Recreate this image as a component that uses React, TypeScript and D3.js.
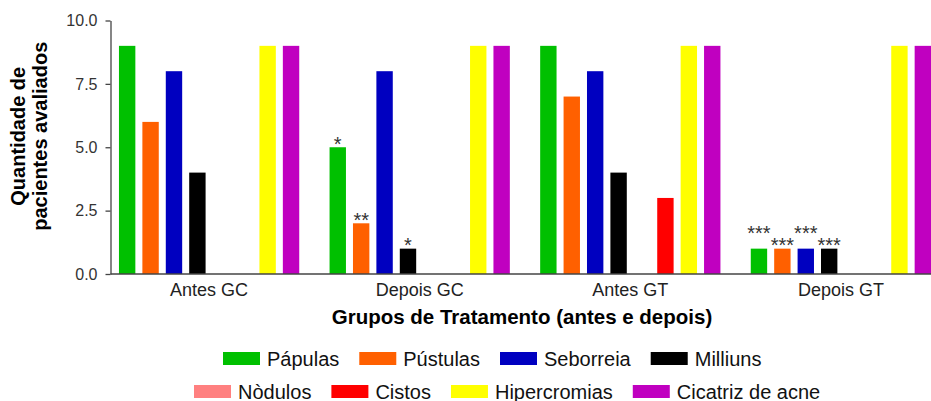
import React, { useRef, useEffect } from 'react';
import * as d3 from 'd3';

// Groups on the x axis
const groups = ['Antes GC', 'Depois GC', 'Antes GT', 'Depois GT'];

// Series (one bar per series in each group)
const seriesNames = [
  'Pápulas',
  'Pústulas',
  'Seborreia',
  'Milliuns',
  'Nòdulos',
  'Cistos',
  'Hipercromias',
  'Cicatriz de acne',
];
const seriesColors = ['#00c000', '#ff6000', '#0000c0', '#000000', '#ff8080', '#ff0000', '#ffff00', '#c000c0'];

// Number of patients, one array per group (same order as seriesNames)
const antesGC = [9, 6, 8, 4, 0, 0, 9, 9];
const depoisGC = [5, 2, 8, 1, 0, 0, 9, 9];
const antesGT = [9, 7, 8, 4, 0, 3, 9, 9];
const depoisGT = [1, 1, 1, 1, 0, 0, 9, 9];
const groupValues = [antesGC, depoisGC, antesGT, depoisGT];

// Significance marks over the bars
const marksAntesGC = ['', '', '', '', '', '', '', ''];
const marksDepoisGC = ['*', '**', '', '*', '', '', '', ''];
const marksAntesGT = ['', '', '', '', '', '', '', ''];
const marksDepoisGT = ['***', '***', '***', '***', '', '', '', ''];
const groupMarks = [marksAntesGC, marksDepoisGC, marksAntesGT, marksDepoisGT];

const yTicks = [0, 2.5, 5, 7.5, 10];

const legendRows = [
  [0, 1, 2, 3],
  [4, 5, 6, 7],
];

const FONT = 'Arial, "Liberation Sans", Helvetica, sans-serif';

const GroupedBarChart = ({ width = 931, height = 401 }) => {
  const svgRef = useRef<SVGSVGElement>(null);

  useEffect(() => {
    d3.select(svgRef.current).selectAll('*').remove();

    const axisLeft = 110.5;
    const plotTop = 20.5;
    const plotBottom = 274;

    const svg = d3
      .select(svgRef.current)
      .attr('width', width)
      .attr('height', height)
      .style('font-family', FONT);

    // Scales
    const x0 = d3
      .scaleBand<string>()
      .domain(groups)
      .range([103.8, 946.2])
      .paddingInner(0.144)
      .paddingOuter(0.072);

    const x1 = d3
      .scaleBand<string>()
      .domain(seriesNames)
      .range([0, x0.bandwidth()])
      .paddingInner(0.3)
      .paddingOuter(0);

    const y = d3.scaleLinear().domain([0, 10]).range([plotBottom, plotTop]);

    const color = d3.scaleOrdinal<string, string>().domain(seriesNames).range(seriesColors);

    // Bars
    const rows = groups.flatMap((g, gi) =>
      seriesNames.map((s, si) => ({
        group: g,
        series: s,
        index: si,
        value: groupValues[gi][si],
        mark: groupMarks[gi][si],
      }))
    );

    svg
      .append('g')
      .selectAll('rect')
      .data(rows.filter(d => d.value > 0))
      .enter()
      .append('rect')
      .attr('x', d => (x0(d.group) as number) + (x1(d.series) as number))
      .attr('y', d => y(d.value))
      .attr('width', x1.bandwidth())
      .attr('height', d => y(0) - y(d.value))
      .attr('fill', d => color(d.series));

    // Significance asterisks (wide ones alternate up/down so they don't collide)
    svg
      .append('g')
      .selectAll('text')
      .data(rows.filter(d => d.mark))
      .enter()
      .append('text')
      .attr('x', d => (x0(d.group) as number) + (x1(d.series) as number) + x1.bandwidth() / 2)
      .attr('y', d => y(d.value) + 3.5 - (d.mark.length > 2 && d.index % 2 === 0 ? 12 : 0))
      .attr('text-anchor', 'middle')
      .attr('font-size', '20px')
      .attr('fill', '#333')
      .text(d => d.mark);

    // Y axis
    const yAxis = svg
      .append('g')
      .attr('transform', `translate(${axisLeft},0)`)
      .call(
        d3
          .axisLeft(y)
          .tickValues(yTicks)
          .tickFormat(d3.format('.1f'))
          .tickSize(5)
          .tickSizeOuter(0)
          .tickPadding(8)
      );
    yAxis.selectAll('path, line').attr('stroke', '#444').attr('stroke-width', 1.3);
    yAxis
      .selectAll('text')
      .attr('font-size', '16px')
      .attr('font-family', FONT)
      .attr('fill', '#333');

    // X axis (line from the y axis to the right edge, no ticks)
    svg
      .append('line')
      .attr('x1', axisLeft)
      .attr('x2', width)
      .attr('y1', plotBottom)
      .attr('y2', plotBottom)
      .attr('stroke', '#444')
      .attr('stroke-width', 1.3);

    const xAxis = svg
      .append('g')
      .attr('transform', `translate(0,${plotBottom})`)
      .call(d3.axisBottom(x0).tickSize(0).tickPadding(9));
    xAxis.select('.domain').remove();
    xAxis
      .selectAll('text')
      .attr('font-size', '18px')
      .attr('font-family', FONT)
      .attr('fill', '#222');

    // Axis titles
    svg
      .append('text')
      .attr('x', 522)
      .attr('y', 324)
      .attr('text-anchor', 'middle')
      .attr('font-size', '20.5px')
      .attr('font-weight', 'bold')
      .attr('fill', '#000')
      .text('Grupos de Tratamento (antes e depois)');

    const yTitle = svg
      .append('text')
      .attr('transform', `translate(25,${(plotTop + plotBottom) / 2 - 11}) rotate(-90)`)
      .attr('text-anchor', 'middle')
      .attr('font-size', '20px')
      .attr('font-weight', 'bold')
      .attr('fill', '#000');
    yTitle.append('tspan').attr('x', 0).attr('dy', 0).text('Quantidade de');
    yTitle.append('tspan').attr('x', 0).attr('dy', 22).text('pacientes avaliados');

    // Legend
    const legendStarts = [223, 194];
    const legendY = [352, 385];
    const swatchW = 37;
    const swatchH = 13;
    const gap = 20;

    legendRows.forEach((row, ri) => {
      let cx = legendStarts[ri];
      row.forEach(si => {
        const item = svg.append('g').attr('transform', `translate(${cx},${legendY[ri]})`);
        item
          .append('rect')
          .attr('width', swatchW)
          .attr('height', swatchH)
          .attr('fill', color(seriesNames[si]));
        const label = item
          .append('text')
          .attr('x', swatchW + 7)
          .attr('y', swatchH + 0.5)
          .attr('font-size', '20px')
          .attr('fill', '#111')
          .text(seriesNames[si]);
        const w = (label.node() as SVGTextElement).getComputedTextLength();
        cx += swatchW + 7 + w + gap;
      });
    });
  }, [width, height]);

  return (
    <svg
      ref={svgRef}
      style={{ position: 'absolute', left: 0, top: 0, display: 'block', background: '#fff' }}
    ></svg>
  );
};

export default function App() {
  return <GroupedBarChart />;
}
